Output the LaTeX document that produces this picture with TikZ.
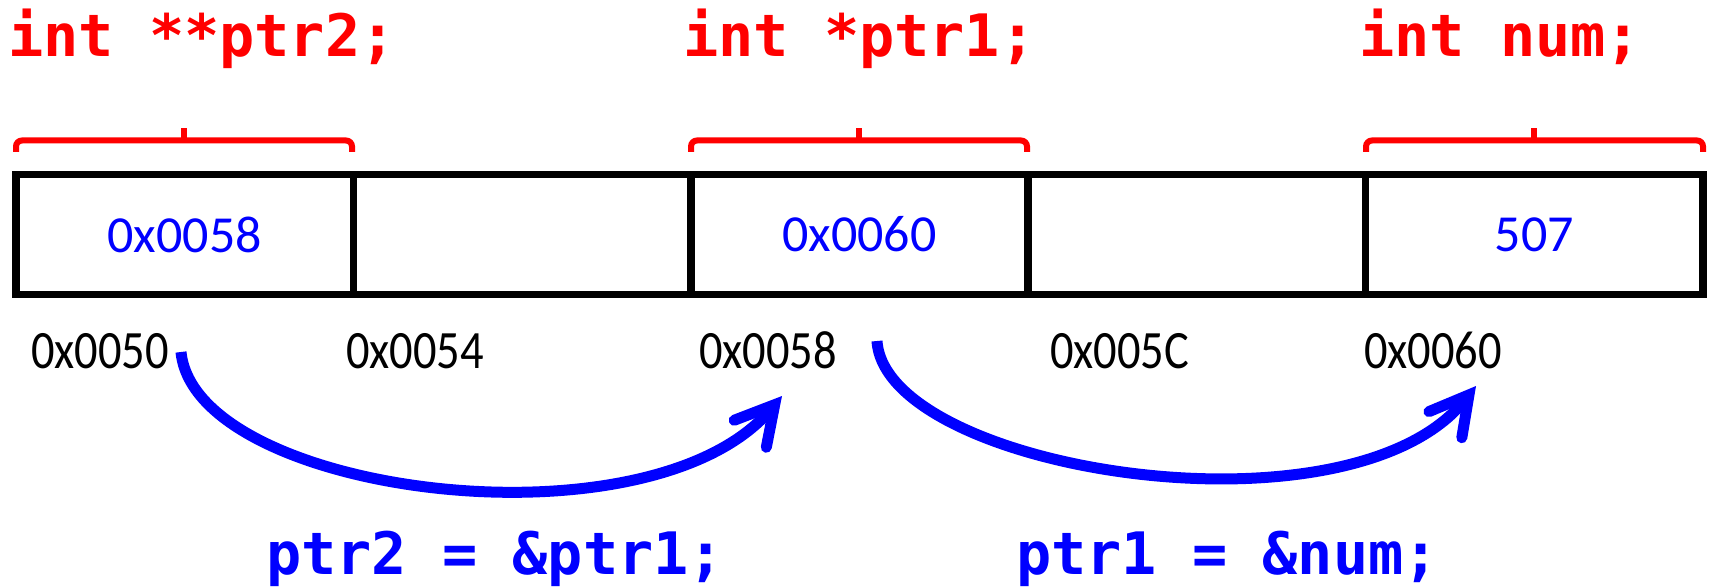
\documentclass[tikz,border=0pt]{standalone}
\usepackage{fontspec}
\usetikzlibrary{arrows.meta}
\newfontfamily\codefont{DejaVu Sans Mono}
\newfontfamily\addrfont[FakeStretch=0.86]{Carlito}
\newfontfamily\valfont{Carlito}
\begin{document}
\begin{tikzpicture}[x=1pt,y=-1pt,
  cell/.style={draw=black, line width=7.7pt, minimum width=337.4pt, minimum height=120pt,
    inner sep=0pt, text=blue, font=\valfont\fontsize{52}{60}\selectfont},
  decl/.style={anchor=base west, inner sep=0pt, text=red,
    font=\codefont\bfseries\fontsize{58.5}{64}\selectfont},
  assign/.style={decl, text=blue},
  addr/.style={anchor=base west, inner sep=0pt, text=black,
    font=\addrfont\fontsize{54}{60}\selectfont},
  brace/.style={draw=red, line width=6pt, rounded corners=6pt},
  ptr/.style={draw=blue, line width=11pt,
    -{Straight Barb[length=38pt,width=42pt,line cap=round,line join=miter]}}]
\useasboundingbox (0,0) rectangle (1712,588);

% declarations
\node[decl] (d2) at (8,57) {int **ptr2;};
\node[decl] (d1) at (683,57) {int *ptr1;};
\node[decl] (d0) at (1359,57) {int num;};

% braces
\draw[brace] (16,152) |- (184,140.5) -| (352,152);
\draw[brace] (184,141) -- (184,128);
\draw[brace] (691,152) |- (859,140.5) -| (1027,152);
\draw[brace] (859,141) -- (859,128);
\draw[brace] (1366,152) |- (1534,140.5) -| (1703,152);
\draw[brace] (1534,141) -- (1534,128);

% memory cells
\node[cell] (c0) at (184.7,234.5) {0x0058};
\node[cell] (c1) at (522.1,234.5) {};
\node[cell] (c2) at (859.5,234.5) {0x0060};
\node[cell] (c3) at (1196.9,234.5) {};
\node[cell] (c4) at (1534.3,234.5) {507};

% addresses
\node[addr] (a0) at (31,368) {0x0050};
\node[addr] (a1) at (346,368) {0x0054};
\node[addr] (a2) at (699,368) {0x0058};
\node[addr] (a3) at (1050,368) {0x005C};
\node[addr] (a4) at (1364,368) {0x0060};

% pointer arrows
\coordinate (s1) at (181,352);
\coordinate (e1) at (782,396);
\coordinate (s2) at (877,341);
\coordinate (e2) at (1476,386);
\draw[ptr] (s1) .. controls +(14,143) and +(-132,157) .. (e1);
\draw[ptr] (s2) .. controls +(8,129) and +(-126,159) .. (e2);

% assignments
\node[assign] (p2) at (266,574) {ptr2 = \&ptr1;};
\node[assign] (p1) at (1016,574) {ptr1 = \&num;};
\end{tikzpicture}
\end{document}
